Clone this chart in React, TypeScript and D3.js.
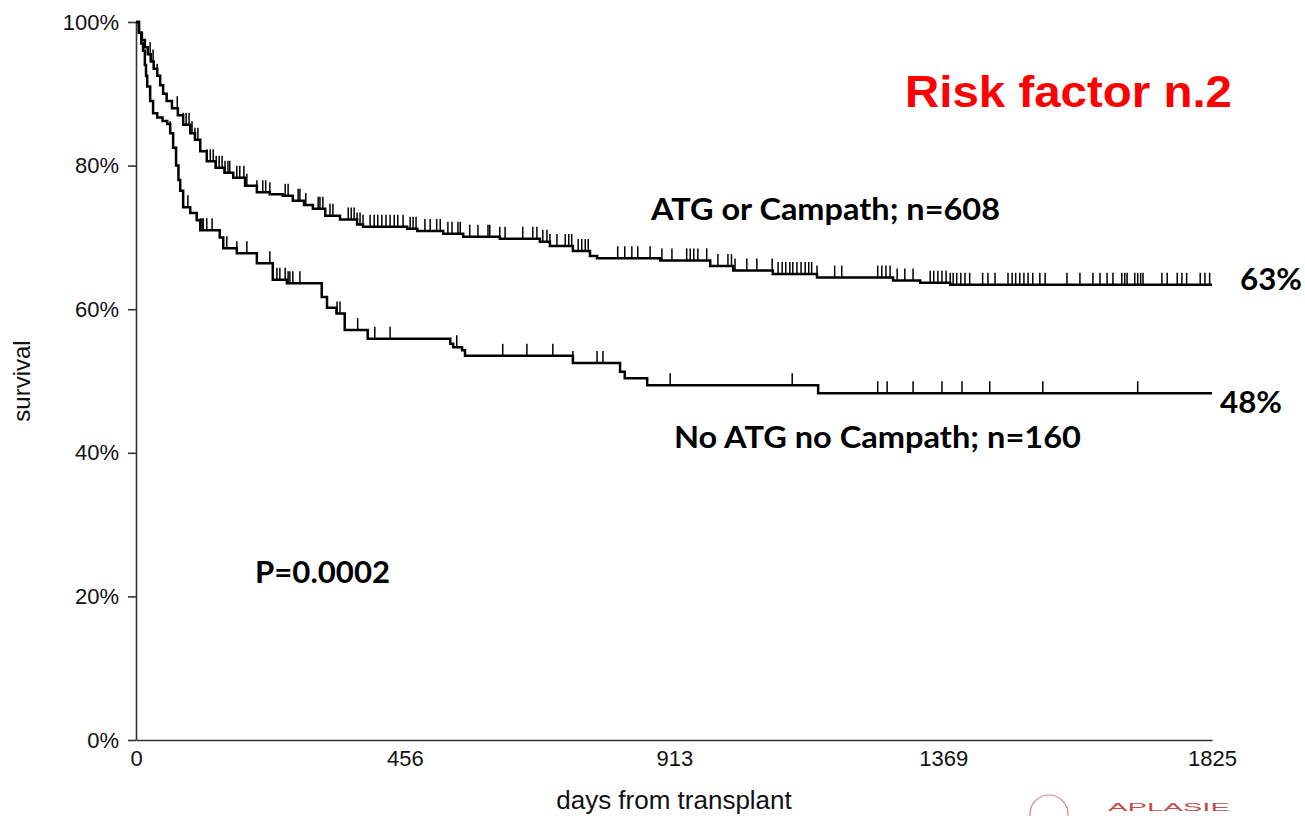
import React, { useRef, useEffect } from "react";
import * as d3 from "d3";

// step points of the Kaplan-Meier curves (day, survival after the step)
const atgDays = [0, 5, 10, 15, 20, 25, 30, 36, 41, 46, 52, 61, 71, 80, 92, 100, 109, 120, 135, 150, 165, 185, 205, 227, 249, 266, 285, 300, 321, 346, 375, 385, 460, 477, 521, 555, 617, 685, 702, 741, 770, 782, 889, 974, 1013, 1080, 1155, 1284, 1330, 1381];
const atgSurv = [1, 0.985, 0.975, 0.965, 0.955, 0.945, 0.935, 0.925, 0.912, 0.9, 0.89, 0.88, 0.87, 0.857, 0.845, 0.836, 0.82, 0.806, 0.797, 0.79, 0.783, 0.772, 0.763, 0.76, 0.758, 0.751, 0.745, 0.74, 0.73, 0.725, 0.718, 0.715, 0.712, 0.709, 0.705, 0.701, 0.698, 0.694, 0.688, 0.681, 0.674, 0.671, 0.668, 0.66, 0.654, 0.649, 0.644, 0.64, 0.637, 0.634];
const atgCensored = [24, 29, 36, 70, 80, 85, 90, 95, 100, 105, 109, 120, 126, 131, 136, 141, 146, 151, 156, 159, 171, 176, 183, 188, 205, 215, 220, 227, 253, 258, 275, 278, 288, 309, 312, 317, 329, 334, 360, 365, 370, 375, 380, 385, 397, 404, 410, 417, 424, 431, 438, 444, 453, 465, 470, 475, 490, 499, 510, 516, 529, 536, 546, 550, 566, 580, 597, 600, 617, 626, 656, 673, 680, 690, 697, 702, 714, 728, 734, 739, 750, 756, 762, 767, 817, 829, 841, 851, 872, 892, 909, 934, 940, 946, 953, 968, 987, 1004, 1010, 1016, 1036, 1053, 1079, 1089, 1096, 1102, 1109, 1114, 1121, 1128, 1135, 1141, 1146, 1155, 1185, 1197, 1258, 1265, 1272, 1279, 1291, 1304, 1318, 1347, 1353, 1360, 1367, 1374, 1381, 1386, 1392, 1399, 1406, 1414, 1436, 1445, 1457, 1479, 1486, 1492, 1499, 1506, 1513, 1521, 1533, 1542, 1579, 1601, 1623, 1635, 1647, 1657, 1672, 1677, 1681, 1694, 1699, 1704, 1708, 1740, 1749, 1766, 1774, 1782, 1805, 1813, 1821];

const noAtgDays = [0, 5, 9, 12, 15, 17, 19, 24, 29, 36, 45, 53, 58, 63, 68, 72, 75, 80, 92, 103, 109, 142, 148, 171, 205, 232, 256, 315, 324, 340, 354, 393, 533, 538, 553, 558, 741, 821, 829, 867, 1157];
const noAtgSurv = [1, 0.985, 0.97, 0.96, 0.94, 0.925, 0.91, 0.89, 0.873, 0.867, 0.862, 0.858, 0.845, 0.825, 0.8, 0.78, 0.765, 0.742, 0.734, 0.724, 0.71, 0.7, 0.685, 0.678, 0.664, 0.641, 0.636, 0.617, 0.602, 0.594, 0.571, 0.559, 0.552, 0.547, 0.543, 0.535, 0.525, 0.513, 0.504, 0.494, 0.483];
const noAtgCensored = [58, 88, 109, 112, 114, 120, 129, 154, 171, 188, 227, 239, 244, 253, 258, 261, 266, 278, 315, 341, 346, 376, 405, 431, 544, 622, 663, 707, 741, 782, 792, 906, 1113, 1258, 1274, 1318, 1367, 1401, 1448, 1538, 1699];

const yTicks = [0, 0.2, 0.4, 0.6, 0.8, 1];
const xTicks = [0, 456, 913, 1369, 1825];

const curves = [
  { days: atgDays, surv: atgSurv, censored: atgCensored },
  { days: noAtgDays, surv: noAtgSurv, censored: noAtgCensored },
];

const App: React.FC = () => {
  const svgRef = useRef<SVGSVGElement | null>(null);

  useEffect(() => {
    if (!svgRef.current) return;
    const svg = d3.select(svgRef.current);
    svg.selectAll("*").remove();

    const x = d3.scaleLinear().domain([0, 1825]).range([136, 1212]);
    const y = d3.scaleLinear().domain([0, 1]).range([740, 22]);

    const tickFont = "'Liberation Sans', Arial, sans-serif";
    const boldFont = "Lato, 'Open Sans', sans-serif";

    // axes
    const yAxis = svg
      .append("g")
      .attr("transform", `translate(${x(0)},0)`)
      .call(
        d3
          .axisLeft(y)
          .tickValues(yTicks)
          .tickSize(8)
          .tickSizeOuter(0)
          .tickPadding(9)
          .tickFormat(d3.format(".0%") as any)
      );
    yAxis.selectAll("text").attr("font-size", 22).attr("font-family", tickFont).attr("fill", "#111");

    const xAxis = svg
      .append("g")
      .attr("transform", `translate(0,${y(0)})`)
      .call(d3.axisBottom(x).tickValues(xTicks).tickSize(0).tickSizeOuter(0).tickPadding(10).tickFormat(d3.format("d") as any));
    xAxis.selectAll("text").attr("font-size", 22).attr("font-family", tickFont).attr("fill", "#111");

    svg.selectAll(".domain, .tick line").attr("stroke", "#333").attr("stroke-width", 1.6);

    // curves
    const line = d3
      .line<[number, number]>()
      .x((d) => x(d[0]))
      .y((d) => y(d[1]))
      .curve(d3.curveStepAfter);

    curves.forEach((c) => {
      const pts: [number, number][] = c.days.map((d, i) => [d, c.surv[i]]);
      pts.push([1825, c.surv[c.surv.length - 1]]);
      svg
        .append("path")
        .attr("d", line(pts))
        .attr("fill", "none")
        .attr("stroke", "#000")
        .attr("stroke-width", 2.5);

      const survAt = (t: number) => {
        const i = d3.bisectRight(c.days, t) - 1;
        return c.surv[Math.max(0, i)];
      };
      svg
        .append("g")
        .selectAll("line")
        .data(c.censored)
        .join("line")
        .attr("x1", (d) => x(d))
        .attr("x2", (d) => x(d))
        .attr("y1", (d) => y(survAt(d)))
        .attr("y2", (d) => y(survAt(d)) - 12)
        .attr("stroke", "#000")
        .attr("stroke-width", 1.5);
    });

    // axis titles
    svg
      .append("text")
      .attr("transform", `translate(30,${(y(0) + y(1)) / 2}) rotate(-90)`)
      .attr("text-anchor", "middle")
      .attr("font-family", tickFont)
      .attr("font-size", 24)
      .attr("fill", "#111")
      .text("survival");

    svg
      .append("text")
      .attr("x", (x(0) + x(1825)) / 2)
      .attr("y", 809)
      .attr("text-anchor", "middle")
      .attr("font-family", tickFont)
      .attr("font-size", 26)
      .attr("fill", "#111")
      .text("days from transplant");

    // annotations
    const notes = [
      { text: "ATG or Campath; n=608", x: 651, y: 220, w: 349 },
      { text: "No ATG no Campath; n=160", x: 674, y: 448, w: 407 },
      { text: "63%", x: 1240, y: 290, w: 62 },
      { text: "48%", x: 1220, y: 413, w: 62 },
      { text: "P=0.0002", x: 255, y: 583, w: 135 },
    ];
    svg
      .append("g")
      .selectAll("text")
      .data(notes)
      .join("text")
      .attr("x", (d) => d.x)
      .attr("y", (d) => d.y)
      .attr("textLength", (d) => d.w)
      .attr("lengthAdjust", "spacingAndGlyphs")
      .attr("font-family", boldFont)
      .attr("font-weight", "bold")
      .attr("font-size", 30)
      .attr("fill", "#000")
      .text((d) => d.text);

    svg
      .append("text")
      .attr("x", 905)
      .attr("y", 107)
      .attr("textLength", 327)
      .attr("lengthAdjust", "spacingAndGlyphs")
      .attr("font-family", tickFont)
      .attr("font-weight", "bold")
      .attr("font-size", 44)
      .attr("fill", "#ff0000")
      .text("Risk factor n.2");

    // logo at the bottom right (cut by the page edge in the source)
    svg
      .append("circle")
      .attr("cx", 1049)
      .attr("cy", 814)
      .attr("r", 19)
      .attr("fill", "none")
      .attr("stroke", "#d08080")
      .attr("stroke-width", 1.2);
    svg
      .append("text")
      .attr("x", 1108)
      .attr("y", 811)
      .attr("textLength", 122)
      .attr("lengthAdjust", "spacingAndGlyphs")
      .attr("font-family", tickFont)
      .attr("font-size", 11)
      .attr("fill", "#c0504d")
      .text("APLASIE");
  }, []);

  return (
    <svg
      ref={svgRef}
      width={1305}
      height={816}
      style={{ position: "absolute", left: 0, top: 0, background: "#fff" }}
    />
  );
};

export default App;
